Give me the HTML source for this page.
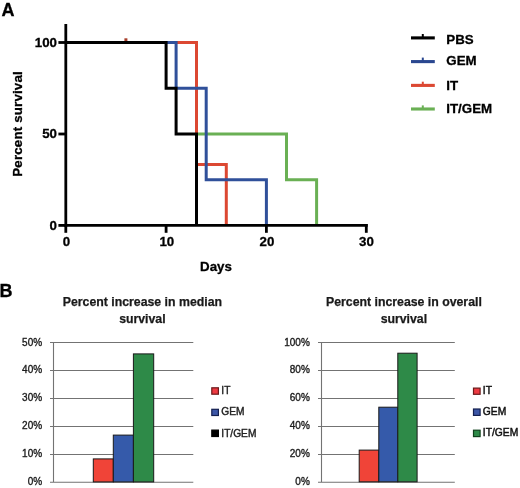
<!DOCTYPE html>
<html><head><meta charset="utf-8">
<style>
html,body{margin:0;padding:0;background:#fff;}
body{width:520px;height:488px;overflow:hidden;}
svg{display:block;will-change:transform;}
text{font-family:"Liberation Sans",sans-serif;}
</style></head>
<body>
<svg width="520" height="488" viewBox="0 0 520 488">
<rect width="520" height="488" fill="#fff"/>
<!-- Panel A -->
<text x="1.5" y="15.8" font-size="18" font-weight="bold" fill="#000" stroke="#000" stroke-width="0.3">A</text>
<text x="0" y="0" font-size="13.3" font-weight="bold" fill="#000" stroke="#000" stroke-width="0.3" text-anchor="middle" transform="translate(22.2,124) rotate(-90)" textLength="105.5" lengthAdjust="spacing">Percent survival</text>
<g font-size="13.3" font-weight="bold" fill="#000" stroke="#000" stroke-width="0.3">
<text x="57" y="47.4" text-anchor="end">100</text>
<text x="57" y="137.8" text-anchor="end">50</text>
<text x="57" y="229.8" text-anchor="end">0</text>
<text x="66.5" y="245.8" text-anchor="middle">0</text>
<text x="166.8" y="245.8" text-anchor="middle">10</text>
<text x="267" y="245.8" text-anchor="middle">20</text>
<text x="366.5" y="245.8" text-anchor="middle">30</text>
<text x="216" y="270.7" text-anchor="middle">Days</text>
</g>
<!-- curves -->
<g fill="none" stroke-width="3" stroke-linejoin="miter" stroke-linecap="butt">
<polyline stroke="#6ab054" points="65.8,42.5 196.5,42.5 196.5,134 286.5,134 286.5,179.7 316.6,179.7 316.6,225.4"/>
<polyline stroke="#dc4832" points="65.8,42.5 196.5,42.5 196.5,164.5 226.3,164.5 226.3,225.4"/>
<line stroke="#a8402c" x1="125.9" y1="38.3" x2="125.9" y2="42.5"/>
<polyline stroke="#30509a" points="65.8,42.5 176.1,42.5 176.1,88.2 206.2,88.2 206.2,179.7 266.4,179.7 266.4,225.4"/>
<polyline stroke="#000" points="65.8,42.5 166.1,42.5 166.1,88.2 176.1,88.2 176.1,134 196.5,134 196.5,225.4"/>
</g>
<!-- axes -->
<g stroke="#000" stroke-width="2.8" fill="none">
<line x1="65.8" y1="24" x2="65.8" y2="226.8"/>
<line x1="64.4" y1="225.4" x2="367.7" y2="225.4"/>
<line x1="58.4" y1="42.5" x2="65.8" y2="42.5"/>
<line x1="58.4" y1="134" x2="65.8" y2="134"/>
<line x1="58.4" y1="225.4" x2="65.8" y2="225.4"/>
<line x1="65.8" y1="225.4" x2="65.8" y2="232.8"/>
<line x1="166.1" y1="225.4" x2="166.1" y2="232.8"/>
<line x1="266.4" y1="225.4" x2="266.4" y2="232.8"/>
<line x1="366.3" y1="224" x2="366.3" y2="232.8"/>
</g>
<!-- legend A -->
<g stroke-width="3.1" fill="none">
<path stroke="#000" d="M411 37.9H434.8"/><path stroke="#000" stroke-width="2" d="M422.8 37.9V34"/>
<path stroke="#2a4790" d="M411 61.6H434.8"/><path stroke="#2a4790" stroke-width="2" d="M422.8 61.6V57.6"/>
<path stroke="#dc4832" d="M411 85.4H434.8"/><path stroke="#dc4832" stroke-width="2" d="M422.8 85.4V81.7"/>
<path stroke="#6ab054" d="M411 109H434.8"/><path stroke="#6ab054" stroke-width="2" d="M422.8 109V105.4"/>
</g>
<g font-size="13.3" font-weight="bold" fill="#000" stroke="#000" stroke-width="0.3">
<text x="446.3" y="43.6">PBS</text>
<text x="446.3" y="65.2">GEM</text>
<text x="446.3" y="90.2">IT</text>
<text x="446.3" y="112.6">IT/GEM</text>
</g>

<!-- Panel B -->
<text x="-0.5" y="297.1" font-size="18" font-weight="bold" fill="#000" stroke="#000" stroke-width="0.3">B</text>

<!-- chart B1 -->
<g font-size="12.3" font-weight="bold" fill="#1a1a1a" stroke="#1a1a1a" stroke-width="0.25" text-anchor="middle">
<text x="142.4" y="305.6">Percent increase in median</text>
<text x="142.4" y="322.6">survival</text>
</g>
<g stroke="#737373" stroke-width="1.1">
<path d="M50 342.5H193.3M50 370.5H193.3M50 398.5H193.3M50 426.5H193.3M50 454.5H193.3M50 482.3H193.3M53.5 342.5V482.3"/>
</g>
<g font-size="10" fill="#1c1c1c" stroke="#1c1c1c" stroke-width="0.35" text-anchor="end">
<text x="42.1" y="345.5">50%</text>
<text x="42.1" y="373.4">40%</text>
<text x="42.1" y="401.3">30%</text>
<text x="42.1" y="429.4">20%</text>
<text x="42.1" y="457.3">10%</text>
<text x="42.1" y="485.1">0%</text>
</g>
<g stroke="#1a1a1a" stroke-width="1">
<rect x="93.3" y="458.9" width="20" height="23" fill="#f04438"/>
<rect x="113.3" y="435.1" width="20.1" height="46.8" fill="#355aaa"/>
<rect x="133.4" y="353.9" width="20.3" height="128" fill="#2e8a48"/>
</g>
<g stroke-width="1.2">
<rect x="211.8" y="387.8" width="6.6" height="6.4" fill="#ee3a42" stroke="#6a1a1a"/>
<rect x="211.8" y="409.3" width="6.6" height="6.2" fill="#3c56a6" stroke="#142050"/>
<rect x="211.8" y="430.1" width="6.6" height="6.4" fill="#000" stroke="#000"/>
</g>
<g font-size="10.2" fill="#222" stroke="#222" stroke-width="0.4">
<text x="221.3" y="394">IT</text>
<text x="221.3" y="414.9">GEM</text>
<text x="221.3" y="436.5">IT/GEM</text>
</g>

<!-- chart B2 -->
<g font-size="12.3" font-weight="bold" fill="#1a1a1a" stroke="#1a1a1a" stroke-width="0.25" text-anchor="middle">
<text x="403.9" y="305.6">Percent increase in overall</text>
<text x="403.9" y="322.6">survival</text>
</g>
<g stroke="#737373" stroke-width="1.1">
<path d="M318 342.5H454.8M318 370.5H454.8M318 398.5H454.8M318 426.5H454.8M318 454.5H454.8M318 482.3H454.8M321.5 342.5V482.3"/>
</g>
<g font-size="10" fill="#1c1c1c" stroke="#1c1c1c" stroke-width="0.35" text-anchor="end">
<text x="309.8" y="345.7">100%</text>
<text x="309.8" y="373.3">80%</text>
<text x="309.8" y="401.2">60%</text>
<text x="309.8" y="429.3">40%</text>
<text x="309.8" y="457.3">20%</text>
<text x="309.8" y="485">0%</text>
</g>
<g stroke="#1a1a1a" stroke-width="1">
<rect x="359.2" y="450.1" width="19.6" height="31.7" fill="#f04438"/>
<rect x="378.8" y="407.2" width="19" height="74.6" fill="#355aaa"/>
<rect x="397.8" y="353.2" width="19.3" height="128.6" fill="#2e8a48"/>
</g>
<g stroke-width="1.2">
<rect x="473.5" y="388.1" width="6.6" height="6.2" fill="#ee3a42" stroke="#6a1a1a"/>
<rect x="473.5" y="409" width="6.6" height="6.4" fill="#3c56a6" stroke="#142050"/>
<rect x="473.5" y="430.2" width="6.6" height="6.4" fill="#2e8a48" stroke="#10401c"/>
</g>
<g font-size="10.3" fill="#111" stroke="#111" stroke-width="0.45">
<text x="482.8" y="393.5">IT</text>
<text x="482.8" y="414.8">GEM</text>
<text x="482.8" y="436.2">IT/GEM</text>
</g>
</svg>
</body></html>
